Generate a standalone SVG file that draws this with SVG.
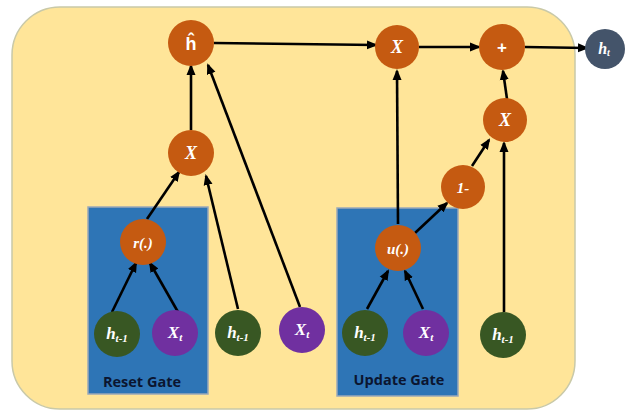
<svg xmlns="http://www.w3.org/2000/svg" width="629" height="410" viewBox="0 0 629 410">
<defs>
<marker id="arr" markerUnits="userSpaceOnUse" markerWidth="11" markerHeight="10" refX="9" refY="5" orient="auto">
<path d="M0,0.5 L11,5 L0,9.5 z" fill="#000"/>
</marker>
<style>
.bg{fill:#ffe599;stroke:#c9c9a8;stroke-width:1.5}
.gate{fill:#2e75b6;stroke:#9aa8b8;stroke-width:1.5}
.op{fill:#c55a11}
.hn{fill:#385723}
.xn{fill:#7030a0}
.out{fill:#44546a}
.m{font-family:"Liberation Serif","DejaVu Serif",serif;font-style:italic;font-weight:bold;fill:#fff;text-anchor:middle}
.s{font-family:"Liberation Sans","DejaVu Sans",sans-serif;font-weight:bold;fill:#fff;text-anchor:middle}
.gl{font-family:"Open Sans","Liberation Sans",sans-serif;font-weight:bold;fill:#0b1530;font-size:14.5px;text-anchor:middle}
.c line{stroke:#000;stroke-width:2.6;marker-end:url(#arr)}
</style>
</defs>
<rect class="bg" x="12" y="7" width="563" height="402" rx="48"/>
<g id="resetGate"><rect class="gate" x="88" y="207" width="120" height="187"/><text class="gl" x="142" y="387">Reset Gate</text></g>
<g id="updateGate"><rect class="gate" x="337" y="208" width="121" height="188"/><text class="gl" x="399" y="385">Update Gate</text></g>
<g class="c" id="connectors">
<line x1="112" y1="312" x2="136" y2="263"/>
<line x1="178" y1="312" x2="150" y2="263"/>
<line x1="147" y1="219" x2="179" y2="172"/>
<line x1="238" y1="309" x2="206" y2="176"/>
<line x1="300" y1="307" x2="208" y2="65"/>
<line x1="191" y1="130" x2="191" y2="66"/>
<line x1="214" y1="43" x2="376" y2="45"/>
<line x1="419" y1="47" x2="479" y2="47"/>
<line x1="525" y1="47" x2="587" y2="48"/>
<line x1="507" y1="99" x2="503" y2="71"/>
<line x1="472" y1="166" x2="489" y2="140"/>
<line x1="504" y1="312" x2="504" y2="143"/>
<line x1="398" y1="224" x2="397" y2="71"/>
<line x1="415" y1="233" x2="447" y2="203"/>
<line x1="367" y1="309" x2="388" y2="271"/>
<line x1="423" y1="309" x2="405" y2="271"/>
</g>
<g id="hhat"><circle class="op" cx="191" cy="43" r="23"/><text class="s" x="191" y="50" font-size="18">ĥ</text></g>
<g id="mulLeft"><circle class="op" cx="191" cy="153" r="23"/><text class="m" x="191" y="159" font-size="18">X</text></g>
<g id="resetFn"><circle class="op" cx="143" cy="242" r="23"/><text class="m" x="143" y="248" font-size="15">r(.)</text></g>
<g id="mulTop"><circle class="op" cx="397" cy="47" r="22"/><text class="m" x="397" y="53" font-size="18">X</text></g>
<g id="plus"><circle class="op" cx="502" cy="47" r="23"/><text class="s" x="502" y="53" font-size="17">+</text></g>
<g id="mulRight"><circle class="op" cx="505" cy="120" r="22"/><text class="m" x="505" y="126" font-size="18">X</text></g>
<g id="oneMinus"><circle class="op" cx="463" cy="187" r="22"/><text class="m" x="463" y="193" font-size="15">1-</text></g>
<g id="updateFn"><circle class="op" cx="398" cy="248" r="23"/><text class="m" x="398" y="254" font-size="15">u(.)</text></g>
<g id="out"><circle class="out" cx="605" cy="49" r="20"/><text class="m" x="604" y="54" font-size="16">h<tspan font-size="10" dy="2">t</tspan></text></g>
<g id="hPrevReset"><circle class="hn" cx="117" cy="334" r="23"/><text class="m" x="117" y="339" font-size="17">h<tspan font-size="11" dy="3">t-1</tspan></text></g>
<g id="xReset"><circle class="xn" cx="175" cy="333" r="23"/><text class="m" x="175" y="338" font-size="17">X<tspan font-size="11" dy="3">t</tspan></text></g>
<g id="hPrevMid"><circle class="hn" cx="238" cy="333" r="23"/><text class="m" x="238" y="338" font-size="17">h<tspan font-size="11" dy="3">t-1</tspan></text></g>
<g id="xMid"><circle class="xn" cx="302" cy="330" r="23"/><text class="m" x="302" y="335" font-size="17">X<tspan font-size="11" dy="3">t</tspan></text></g>
<g id="hPrevUpdate"><circle class="hn" cx="365" cy="333" r="23"/><text class="m" x="365" y="338" font-size="17">h<tspan font-size="11" dy="3">t-1</tspan></text></g>
<g id="xUpdate"><circle class="xn" cx="426" cy="333" r="23"/><text class="m" x="426" y="338" font-size="17">X<tspan font-size="11" dy="3">t</tspan></text></g>
<g id="hPrevRight"><circle class="hn" cx="503" cy="335" r="23"/><text class="m" x="503" y="340" font-size="17">h<tspan font-size="11" dy="3">t-1</tspan></text></g>
</svg>
